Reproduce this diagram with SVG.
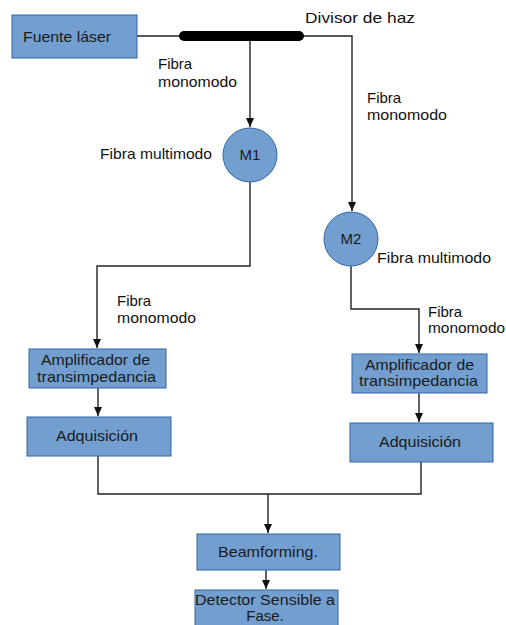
<svg xmlns="http://www.w3.org/2000/svg" width="506" height="625" viewBox="0 0 506 625">
<defs>
<marker id="ah" markerUnits="userSpaceOnUse" markerWidth="10" markerHeight="10" refX="9" refY="4" orient="auto">
<path d="M0,0 L9,4 L0,8 z" fill="#111"/>
</marker>
<style>
.box{fill:#729fcf;stroke:#3465a4;stroke-width:1}
.circ{fill:#729fcf;stroke:#3465a4;stroke-width:1}
.t{font-family:"Liberation Sans",Arial,sans-serif;font-size:15px;fill:#1a1a1a}
.lbl{font-family:"Liberation Sans",Arial,sans-serif;font-size:15px;fill:#111}
.c{fill:none;stroke:#222;stroke-width:1.4}
</style>
</defs>
<rect width="506" height="625" fill="#fff"/>
<g id="connectors">
<line class="c" x1="137" y1="36" x2="182" y2="36"/>
<polyline class="c" points="302,36 352,36 352,211" marker-end="url(#ah)"/>
<line class="c" x1="250" y1="40" x2="250" y2="127" marker-end="url(#ah)"/>
<polyline class="c" points="250,182 250,266 97,266 97,348" marker-end="url(#ah)"/>
<polyline class="c" points="351,266 351,309 419,309 419,353" marker-end="url(#ah)"/>
<line class="c" x1="98" y1="388" x2="98" y2="416" marker-end="url(#ah)"/>
<line class="c" x1="419" y1="393" x2="419" y2="422" marker-end="url(#ah)"/>
<polyline class="c" points="98,456 98,494 421,494 421,462"/>
<line class="c" x1="268" y1="494" x2="268" y2="533" marker-end="url(#ah)"/>
<line class="c" x1="266" y1="570" x2="266" y2="589" marker-end="url(#ah)"/>
</g>
<g id="fuente">
<rect class="box" x="12" y="15" width="125" height="43"/>
<text class="t" x="23" y="42" textLength="88" lengthAdjust="spacingAndGlyphs">Fuente láser</text>
</g>
<g id="divisor">
<rect x="179" y="31" width="125" height="10" rx="5" fill="#000"/>
<text class="lbl" x="305" y="23" textLength="110" lengthAdjust="spacingAndGlyphs">Divisor de haz</text>
</g>
<g id="lbl-fibra1">
<text class="lbl" x="158" y="69">Fibra</text>
<text class="lbl" x="158" y="87" textLength="79" lengthAdjust="spacingAndGlyphs">monomodo</text>
</g>
<g id="lbl-fibra2">
<text class="lbl" x="367" y="103">Fibra</text>
<text class="lbl" x="367" y="120" textLength="80" lengthAdjust="spacingAndGlyphs">monomodo</text>
</g>
<g id="m1">
<circle class="circ" cx="250" cy="155" r="27"/>
<text class="t" x="250" y="160" text-anchor="middle">M1</text>
</g>
<g id="lbl-multi1">
<text class="lbl" x="100" y="159" textLength="112" lengthAdjust="spacingAndGlyphs">Fibra multimodo</text>
</g>
<g id="m2">
<circle class="circ" cx="351" cy="239" r="27"/>
<text class="t" x="351" y="244" text-anchor="middle">M2</text>
</g>
<g id="lbl-multi2">
<text class="lbl" x="377" y="263" textLength="114" lengthAdjust="spacingAndGlyphs">Fibra multimodo</text>
</g>
<g id="lbl-fibra3">
<text class="lbl" x="117" y="306">Fibra</text>
<text class="lbl" x="117" y="323" textLength="79" lengthAdjust="spacingAndGlyphs">monomodo</text>
</g>
<g id="lbl-fibra4">
<text class="lbl" x="428" y="317">Fibra</text>
<text class="lbl" x="428" y="333" textLength="77" lengthAdjust="spacingAndGlyphs">monomodo</text>
</g>
<g id="amp1">
<rect class="box" x="29" y="349" width="137" height="39"/>
<text class="t" x="41" y="365" textLength="109" lengthAdjust="spacingAndGlyphs">Amplificador de</text>
<text class="t" x="37" y="382" textLength="119" lengthAdjust="spacingAndGlyphs">transimpedancia</text>
</g>
<g id="amp2">
<rect class="box" x="352" y="354" width="135" height="39"/>
<text class="t" x="365" y="370" textLength="109" lengthAdjust="spacingAndGlyphs">Amplificador de</text>
<text class="t" x="359" y="386" textLength="119" lengthAdjust="spacingAndGlyphs">transimpedancia</text>
</g>
<g id="adq1">
<rect class="box" x="27" y="417" width="144" height="39"/>
<text class="t" x="56" y="441" textLength="82" lengthAdjust="spacingAndGlyphs">Adquisición</text>
</g>
<g id="adq2">
<rect class="box" x="350" y="423" width="143" height="39"/>
<text class="t" x="379" y="447" textLength="82" lengthAdjust="spacingAndGlyphs">Adquisición</text>
</g>
<g id="beam">
<rect class="box" x="197" y="534" width="143" height="36"/>
<text class="t" x="218" y="557" textLength="100" lengthAdjust="spacingAndGlyphs">Beamforming.</text>
</g>
<g id="detector">
<rect class="box" x="195" y="590" width="143" height="40"/>
<text class="t" x="195" y="605" textLength="140" lengthAdjust="spacingAndGlyphs">Detector Sensible a</text>
<text class="t" x="265" y="621" text-anchor="middle">Fase.</text>
</g>
</svg>
